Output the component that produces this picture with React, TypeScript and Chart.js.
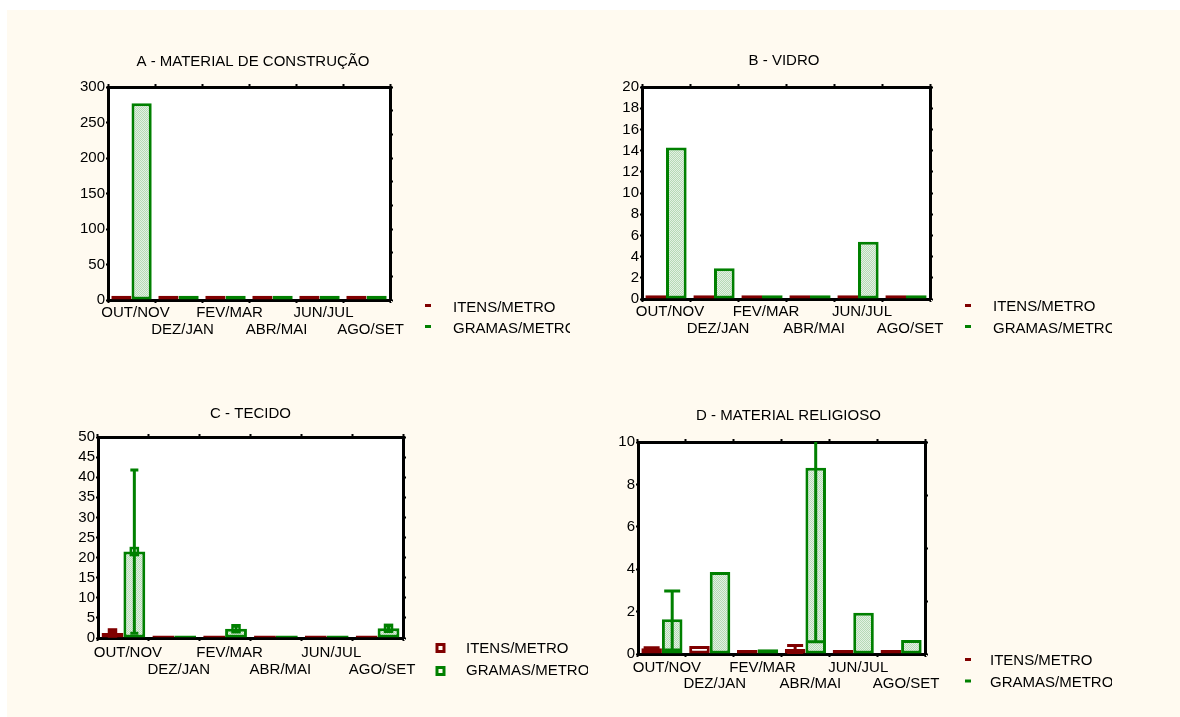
import React, { useEffect, useRef } from "react";
import { Chart, registerables } from "chart.js";

Chart.register(...registerables);

// Sampling periods and series names
const PERIODS = ["OUT/NOV", "DEZ/JAN", "FEV/MAR", "ABR/MAI", "JUN/JUL", "AGO/SET"];
const SERIES_NAMES = ["ITENS/METRO", "GRAMAS/METRO"];

type Err = [number, number] | null;

// A - material de construção
const A_ITENS = [6, 6, 6, 6, 6, 6];
const A_GRAMAS = [277, 6, 6, 6, 6, 6];
const A_Y_TICKS = { max: 300, step: 50 };

// B - vidro
const B_ITENS = [0.35, 0.35, 0.35, 0.35, 0.35, 0.35];
const B_GRAMAS = [14.3, 2.9, 0.35, 0.35, 5.4, 0.35];
const B_Y_TICKS = { max: 20, step: 2 };

// C - tecido
const C_ITENS = [1.25, 0.6, 0.6, 0.6, 0.6, 0.6];
const C_GRAMAS = [21.5, 0.6, 2.3, 0.6, 0.6, 2.4];
const C_ITENS_ERR: Err[] = [[0.9, 1.6], null, null, null, null, null];
const C_GRAMAS_ERR: Err[] = [[1.2, 41.8], null, [1.8, 2.9], null, null, [1.9, 3.0]];
const C_Y_TICKS = { max: 50, step: 5 };

// D - material religioso
const D_ITENS = [0.27, 0.38, 0.19, 0.24, 0.19, 0.19];
const D_GRAMAS = [1.64, 3.87, 0.22, 8.79, 1.95, 0.66];
const D_ITENS_ERR: Err[] = [[0.18, 0.3], null, null, [0.06, 0.4], null, null];
const D_GRAMAS_ERR: Err[] = [[0.19, 2.97], null, null, [0.58, 17.0], null, null];
const D_Y_TICKS = { max: 10, step: 2 };

const RED = "#800000";
const GREEN = "#008000";
const FONT = '"Liberation Sans", Arial, Helvetica, sans-serif';
const Y_AXIS_W = 50;

Chart.defaults.color = "#000";
Chart.defaults.font.family = FONT;

interface Panel {
  title: string;
  itens: number[];
  gramas: number[];
  itensErr: Err[] | null;
  gramasErr: Err[] | null;
  yMax: number;
  yStep: number;
  rightSteps: number;
  marker: "dash" | "square";
  meanMarkers: boolean;
  capWidth: number;
  box: { l: number; t: number; r: number; b: number };
  clipRight: number;
  bottom: number;
  titleY: number;
  titleDx: number;
  labelPad: number;
  labelShift: number;
  legend: { markerDx: number; textDx: number; rows: [number, number]; markerRows: [number, number] };
}

const PANELS: Panel[] = [
  {
    title: "A - MATERIAL DE CONSTRUÇÃO",
    itens: A_ITENS, gramas: A_GRAMAS, itensErr: null, gramasErr: null,
    yMax: A_Y_TICKS.max, yStep: A_Y_TICKS.step, rightSteps: 9,
    marker: "dash", meanMarkers: false, capWidth: 14,
    box: { l: 108, t: 87, r: 390, b: 300 }, clipRight: 570, bottom: 345,
    titleY: 62, titleDx: 4, labelPad: 2, labelShift: 4,
    legend: { markerDx: 38, textDx: 63, rows: [7.5, 29], markerRows: [5.5, 26.5] },
  },
  {
    title: "B - VIDRO",
    itens: B_ITENS, gramas: B_GRAMAS, itensErr: null, gramasErr: null,
    yMax: B_Y_TICKS.max, yStep: B_Y_TICKS.step, rightSteps: 10,
    marker: "dash", meanMarkers: false, capWidth: 14,
    box: { l: 642, t: 87, r: 930, b: 299 }, clipRight: 1112, bottom: 345,
    titleY: 61, titleDx: -2, labelPad: 2, labelShift: 4,
    legend: { markerDx: 38, textDx: 63, rows: [8, 30], markerRows: [6.5, 27.5] },
  },
  {
    title: "C - TECIDO",
    itens: C_ITENS, gramas: C_GRAMAS, itensErr: C_ITENS_ERR, gramasErr: C_GRAMAS_ERR,
    yMax: C_Y_TICKS.max, yStep: C_Y_TICKS.step, rightSteps: 10,
    marker: "square", meanMarkers: true, capWidth: 8,
    box: { l: 98, t: 437, r: 403, b: 638 }, clipRight: 588, bottom: 690,
    titleY: 414, titleDx: 0, labelPad: 4, labelShift: 4.5,
    legend: { markerDx: 37.5, textDx: 63, rows: [11, 33], markerRows: [10, 33] },
  },
  {
    title: "D - MATERIAL RELIGIOSO",
    itens: D_ITENS, gramas: D_GRAMAS, itensErr: D_ITENS_ERR, gramasErr: D_GRAMAS_ERR,
    yMax: D_Y_TICKS.max, yStep: D_Y_TICKS.step, rightSteps: 4,
    marker: "dash", meanMarkers: false, capWidth: 16,
    box: { l: 638, t: 442, r: 925, b: 654 }, clipRight: 1112, bottom: 700,
    titleY: 416, titleDx: 7, labelPad: 2.5, labelShift: 5,
    legend: { markerDx: 43, textDx: 65, rows: [7, 29], markerRows: [5.5, 27] },
  },
];

function tickGrid(len: number, offset = false) {
  return {
    display: true,
    drawOnChartArea: false,
    drawTicks: true,
    tickLength: len,
    tickWidth: 2,
    tickColor: "#000",
    offset,
  };
}

const BORDER = { display: true, color: "#000", width: 3 };

function makeDecor(p: Panel) {
  return {
    id: "panelDecor",
    beforeDraw(chart: any) {
      const { ctx, chartArea: a } = chart;
      ctx.save();
      ctx.fillStyle = "#ffffff";
      ctx.fillRect(a.left, a.top, a.right - a.left, a.bottom - a.top);
      ctx.restore();
    },
    afterDatasetsDraw(chart: any) {
      const { ctx, chartArea: a } = chart;
      const yScale = chart.scales.y;
      const errSets = [p.itensErr, p.gramasErr];
      ctx.save();
      ctx.beginPath();
      ctx.rect(a.left, a.top, a.right - a.left, a.bottom - a.top);
      ctx.clip();
      chart.data.datasets.forEach((ds: any, di: number) => {
        const errs = errSets[di];
        if (!errs) return;
        const meta = chart.getDatasetMeta(di);
        errs.forEach((e, i) => {
          if (!e) return;
          const x = meta.data[i].x;
          const yLo = yScale.getPixelForValue(e[0]);
          const yHi = yScale.getPixelForValue(e[1]);
          const half = p.capWidth / 2;
          ctx.strokeStyle = ds.borderColor;
          ctx.lineWidth = 3;
          ctx.beginPath();
          ctx.moveTo(x, yLo);
          ctx.lineTo(x, yHi);
          ctx.moveTo(x - half, yLo);
          ctx.lineTo(x + half, yLo);
          ctx.moveTo(x - half, yHi);
          ctx.lineTo(x + half, yHi);
          ctx.stroke();
          if (p.meanMarkers) {
            const ym = yScale.getPixelForValue(ds.data[i]);
            ctx.lineWidth = 2.5;
            ctx.strokeRect(x - 3.5, ym - 3.5, 7, 7);
          }
        });
      });
      ctx.restore();
    },
    afterDraw(chart: any) {
      const { ctx, chartArea: a } = chart;
      ctx.save();
      // panel title
      ctx.fillStyle = "#000";
      ctx.font = `15px ${FONT}`;
      ctx.textAlign = "center";
      ctx.textBaseline = "middle";
      ctx.fillText(p.title, (a.left + a.right) / 2 + p.titleDx, 20);
      // legend
      const colors = [RED, GREEN];
      SERIES_NAMES.forEach((name, i) => {
        const mx = a.right + p.legend.markerDx;
        const my = a.bottom + p.legend.markerRows[i];
        ctx.fillStyle = colors[i];
        ctx.strokeStyle = colors[i];
        if (p.marker === "dash") {
          ctx.fillRect(mx - 3, my - 1.5, 6, 3);
        } else {
          ctx.lineWidth = 3;
          ctx.strokeRect(mx - 3.5, my - 3.5, 7, 7);
        }
        ctx.fillStyle = "#000";
        ctx.textAlign = "left";
        ctx.textBaseline = "middle";
        ctx.fillText(name, a.right + p.legend.textDx, a.bottom + p.legend.rows[i]);
      });
      ctx.restore();
    },
  };
}

function ChartPanel({ p }: { p: Panel }) {
  const ref = useRef<HTMLCanvasElement | null>(null);
  const left = p.box.l - Y_AXIS_W;
  const top = p.titleY - 20;
  const width = p.clipRight - left;
  const height = p.bottom - top;

  useEffect(() => {
    const canvas = ref.current;
    if (!canvas) return;
    const ctx = canvas.getContext("2d")!;
    // stippled light green fill
    const tile = document.createElement("canvas");
    tile.width = 2;
    tile.height = 2;
    const tctx = tile.getContext("2d")!;
    tctx.fillStyle = "#e3f1e3";
    tctx.fillRect(0, 0, 2, 2);
    tctx.fillStyle = "#b6d9b6";
    tctx.fillRect(0, 0, 1, 1);
    tctx.fillRect(1, 1, 1, 1);
    const stipple = ctx.createPattern(tile, "repeat");

    const xh = p.bottom - p.box.b;
    const chart = new Chart(canvas, {
      type: "bar",
      data: {
        labels: PERIODS,
        datasets: [
          {
            label: SERIES_NAMES[0],
            data: p.itens,
            backgroundColor: "#ffffff",
            borderColor: RED,
            borderWidth: 3,
            borderSkipped: false,
            categoryPercentage: 0.86,
            barPercentage: 1,
          },
          {
            label: SERIES_NAMES[1],
            data: p.gramas,
            backgroundColor: stipple as any,
            borderColor: GREEN,
            borderWidth: 3,
            borderSkipped: false,
            categoryPercentage: 0.86,
            barPercentage: 1,
          },
        ],
      },
      options: {
        animation: false,
        responsive: false,
        maintainAspectRatio: false,
        events: [],
        layout: {
          autoPadding: false,
          padding: { top: p.box.t - top, right: p.clipRight - p.box.r, left: 0, bottom: 0 },
        },
        plugins: {
          legend: { display: false },
          title: { display: false },
          tooltip: { enabled: false },
        },
        scales: {
          x: {
            type: "category",
            position: "bottom",
            offset: true,
            grid: tickGrid(3, true),
            border: BORDER,
            ticks: {
              autoSkip: false,
              maxRotation: 0,
              minRotation: 0,
              padding: p.labelPad,
              labelOffset: p.labelShift,
              color: "#000",
              font: { family: FONT, size: 15, lineHeight: 1.1 },
              callback: (_v: any, i: number) => (i % 2 === 0 ? [PERIODS[i]] : ["", PERIODS[i]]),
            },
            afterFit: (s: any) => {
              s.height = xh;
            },
          },
          x2: {
            type: "category",
            position: "top",
            offset: true,
            grid: tickGrid(3, true),
            border: BORDER,
            ticks: { display: false },
            afterFit: (s: any) => {
              s.height = 0;
            },
          },
          y: {
            type: "linear",
            position: "left",
            min: 0,
            max: p.yMax,
            grid: tickGrid(2),
            border: BORDER,
            ticks: {
              stepSize: p.yStep,
              autoSkip: false,
              padding: 1,
              color: "#000",
              font: { family: FONT, size: 15, lineHeight: 1 },
            },
            afterFit: (s: any) => {
              s.width = Y_AXIS_W;
            },
          },
          y2: {
            type: "linear",
            position: "right",
            min: 0,
            max: p.rightSteps,
            grid: tickGrid(3),
            border: BORDER,
            ticks: { display: false, stepSize: 1, autoSkip: false },
            afterFit: (s: any) => {
              s.width = 0;
            },
          },
        },
      } as any,
      plugins: [makeDecor(p)],
    });
    return () => chart.destroy();
  }, [p]);

  return (
    <canvas
      ref={ref}
      width={width}
      height={height}
      style={{ position: "absolute", left, top, width, height }}
    />
  );
}

export default function App() {
  return (
    <div style={{ position: "absolute", left: 0, top: 0, width: 1180, height: 717, overflow: "hidden" }}>
      <div
        style={{
          position: "absolute",
          left: 7,
          top: 10,
          width: 1173,
          height: 707,
          background: "#fffaf0",
        }}
      />
      {PANELS.map((p) => (
        <ChartPanel key={p.title} p={p} />
      ))}
    </div>
  );
}
